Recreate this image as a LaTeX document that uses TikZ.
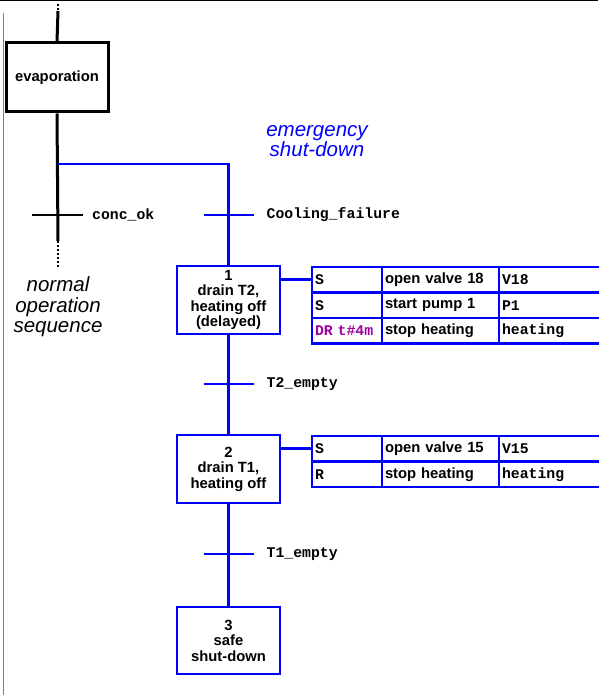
\documentclass[tikz,border=0pt]{standalone}
\usepackage{fontspec}
\setmainfont{Liberation Sans}
\newfontfamily\codefont{Liberation Mono}
\usetikzlibrary{positioning}
\definecolor{drpurple}{RGB}{160,0,160}

\begin{document}
\begin{tikzpicture}[x=1pt, y=-1pt,
  evapbox/.style={draw, line width=3pt, minimum width=102pt, minimum height=69pt, inner sep=0pt, font=\bfseries\fontsize{14.8}{15.5}\selectfont},
  stepbox/.style={draw=blue, line width=2.6pt, minimum width=103pt, minimum height=68pt, align=center, inner sep=0pt, font=\bfseries\fontsize{14.8}{15.5}\selectfont},
  link/.style={blue, line width=2.6pt},
  bar/.style={line width=3pt},
  cond/.style={inner sep=0pt, font=\codefont\bfseries\fontsize{14.8}{16}\selectfont},
  cell/.style={draw=blue, line width=2.5pt, anchor=north west, outer sep=0pt, minimum height=25.5pt, inner xsep=3pt, inner ysep=0pt, align=left},
  qual/.style={cell, text width=64pt, font=\codefont\bfseries\fontsize{14.8}{16}\selectfont},
  act/.style={cell, text width=111pt, font=\bfseries\fontsize{14.8}{16}\selectfont},
  var/.style={cell, text width=130pt, font=\codefont\bfseries\fontsize{14.8}{16}\selectfont},
  note/.style={align=center, font=\itshape\fontsize{20.5}{20.5}\selectfont}
]
  \useasboundingbox (0,0) rectangle (598,695);

  % Frame
  \draw[line width=1.5pt] (0,0.75) -- (598,0.75);
  \draw[gray, line width=1pt] (3,13) -- (3,695);

  % Normal sequence
  \node[evapbox] (evap) at (57,77.5) {evaporation};
  \coordinate (top) at (58,4);
  \coordinate (topend) at (58,11);
  \coordinate (fork) at (58,164);
  \coordinate (tok) at (58,215);
  \coordinate (cont) at (58,241);
  \coordinate (more) at (58,268);
  \draw[line width=2.5pt, dash pattern=on 2pt off 2pt] (top) -- (topend);
  \draw[bar] (topend) -- (evap.north);
  \draw[bar] (evap.south) -- (cont);
  \draw[line width=2.5pt, dash pattern=on 1.5pt off 2.5pt] (cont) -- (more);
  \draw[line width=2.6pt] (tok) ++(-26,0) -- ++(51,0);
  \node[cond, right=34pt of tok] (lok) {conc\_ok};
  \node[note] (normal) at (58,307) {normal\\operation\\sequence};

  % Emergency sequence
  \node[note, text=blue] (emerg) at (317,141) {emergency\\shut-down};
  \node[stepbox] (s1) at (228.5,300) {1\\drain T2,\\heating off\\(delayed)};
  \node[stepbox] (s2) at (228.5,469) {2\\drain T1,\\heating off};
  \node[stepbox, minimum height=67pt] (s3) at (228.5,640.5) {3\\safe\\shut-down};
  \coordinate (tcf) at (228.5,215);
  \coordinate (tt2) at (228.5,384);
  \coordinate (tt1) at (228.5,554);
  \draw[link] (fork) -| (s1.north);
  \draw[link] (s1.south) -- (s2.north);
  \draw[link] (s2.south) -- (s3.north);
  \draw[link] (tcf) ++(-25,0) -- ++(50,0);
  \draw[link] (tt2) ++(-25,0) -- ++(50,0);
  \draw[link] (tt1) ++(-25,0) -- ++(50,0);
  \node[cond, right=38pt of tcf] (lcf) {Cooling\_failure};
  \node[cond, right=38pt of tt2] (lt2) {T2\_empty};
  \node[cond, right=38pt of tt1] (lt1) {T1\_empty};

  % Actions of step 1
  \node[qual] (q11) at (312,267) {S};
  \node[act] (a11) at (382,267) {open valve 18};
  \node[var] (v11) at (499,267) {V18};
  \node[qual] (q12) at (312,292.5) {S};
  \node[act] (a12) at (382,292.5) {start pump 1};
  \node[var] (v12) at (499,292.5) {P1};
  \node[qual, text=drpurple] (q13) at (312,318) {DR t\#4m};
  \node[act] (a13) at (382,318) {stop heating};
  \node[var] (v13) at (499,318) {heating};
  \draw[link] (s1.east |- q11.west) -- (q11.west);

  % Actions of step 2
  \node[qual] (q21) at (312,436) {S};
  \node[act] (a21) at (382,436) {open valve 15};
  \node[var] (v21) at (499,436) {V15};
  \node[qual] (q22) at (312,461.5) {R};
  \node[act] (a22) at (382,461.5) {stop heating};
  \node[var] (v22) at (499,461.5) {heating};
  \draw[link] (s2.east |- q21.west) -- (q21.west);
\end{tikzpicture}
\end{document}
